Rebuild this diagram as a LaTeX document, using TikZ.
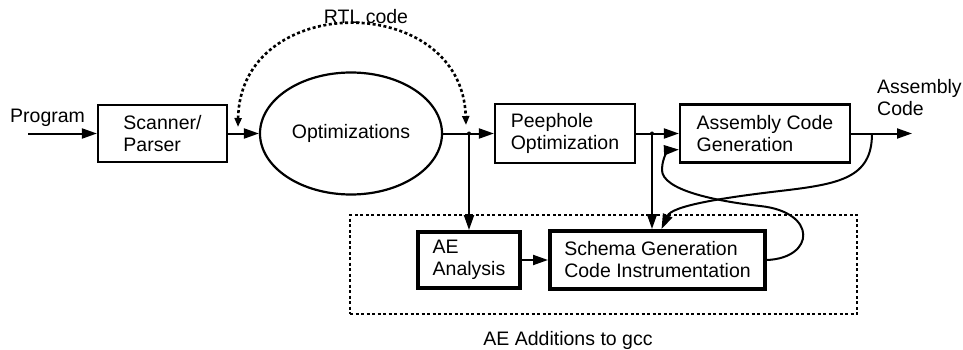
\documentclass[tikz,border=0pt]{standalone}
\usepackage{fontspec}
\setmainfont{Liberation Sans}
\usetikzlibrary{arrows.meta,shapes.geometric,calc}
\begin{document}
\begin{tikzpicture}[x=1pt,y=-1pt,
  font=\fontsize{19.5}{22}\selectfont,
  box/.style={draw, line width=2.2pt, align=left, inner sep=0pt},
  thickbox/.style={box, line width=4pt},
  arr/.style={line width=2pt, -{Triangle[length=15pt,width=10pt]}},
  dotline/.style={line width=2.6pt, dash pattern=on 3pt off 2.5pt},
  lbl/.style={inner sep=0pt, align=left}
]
\useasboundingbox (0,0) rectangle (963,350);

% main row
\node[box, minimum width=129pt, minimum height=57pt] (scan) at (162.5,133.5) {Scanner/\\Parser};
\node[ellipse, draw, line width=2.2pt, minimum width=182pt, minimum height=122pt, inner sep=0pt] (opt) at (351,133.5) {Optimizations};
\node[box, minimum width=140pt, minimum height=59pt] (peep) at (565,133.5) {Peephole\\Optimization};
\node[box, minimum width=170pt, minimum height=58pt] (asm) at (765,133.5) {Assembly Code\\Generation};

% AE additions
\node[draw, line width=2.4pt, dash pattern=on 3pt off 2.5pt, minimum width=507pt, minimum height=99pt, inner sep=0pt] (aebox) at (603.5,264.5) {};
\node[thickbox, minimum width=102pt, minimum height=56pt] (ae) at (469,260) {AE\\Analysis};
\node[thickbox, minimum width=215pt, minimum height=58pt] (schema) at (657.5,260) {Schema Generation\\Code Instrumentation};

% labels
\node[lbl, anchor=base west] (prog) at (10,122) {Program};
\node[lbl, anchor=north west] (asmlbl) at (877,79) {Assembly\\Code};
\node[lbl, anchor=base] (rtl) at (366,24) {RTL code};
\node[lbl, anchor=base] (aelbl) at (568,345) {AE Additions to gcc};

% coordinates
\coordinate (pin) at (28,133.5);
\coordinate (pout) at (912,133.5);
\coordinate (j1) at (469,133.5);
\coordinate (j2) at (652,133.5);
\coordinate (cb) at (872,133.5);
\coordinate (rl) at (238,127);
\coordinate (rr) at (466,125);

% connectors
\draw[arr] (pin) -- (scan.west);
\draw[arr] (scan.east) -- (opt.west);
\draw[arr] (opt.east) -- (peep.west);
\draw[arr] (peep.east) -- (asm.west);
\draw[arr] (asm.east) -- (pout);
\draw[arr] (j1) -- (j1 |- ae.north);
\draw[arr] (j2) -- (j2 |- schema.north);
\draw[arr] (ae.east) -- (schema.west);
\fill (j1) circle (2pt);
\fill (j2) circle (2pt);

% RTL code dashed arc
\draw[dotline, {Triangle[length=9pt,width=7pt]}-{Triangle[length=9pt,width=7pt]}]
  (rl) .. controls (240,-9) and (462,-9) .. (rr);

% feedback curves
\draw[arr] (schema.east) .. controls (815,258) and (818,212) .. (760,206)
  .. controls (715,201) and (662,190) .. (662,170)
  .. controls (662,156) and (670,150) .. ([yshift=14pt]asm.south west);
\draw[arr] (cb) .. controls (872,178) and (840,184) .. (780,191)
  .. controls (720,198) and (672,206) .. ([xshift=4pt]schema.north);
\end{tikzpicture}
\end{document}
